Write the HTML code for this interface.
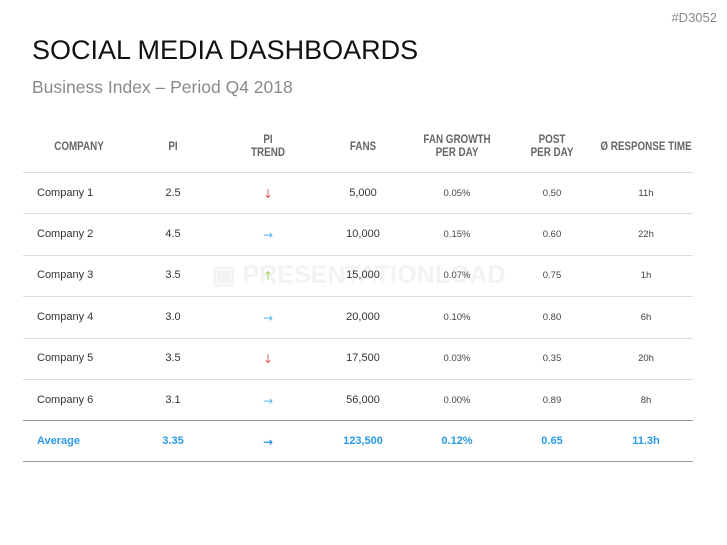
<!DOCTYPE html>
<html><head><style>
body{margin:0;width:727px;height:545px;background:#fff;position:relative;overflow:hidden;font-family:"Liberation Sans",sans-serif}
.a{position:absolute;white-space:nowrap}
.h{font-family:"Liberation Sans Narrow","Liberation Sans",sans-serif;font-size:12px;color:#666;text-align:center;line-height:13px;transform:translateX(-50%) scaleX(0.82);font-weight:bold}
.c{font-size:11px;color:#333;transform:translateX(-50%)}
.s{font-size:9.5px;color:#444;transform:translateX(-50%)}
.ar{font-family:"DejaVu Sans",sans-serif;font-size:12px;transform:translateX(-50%)}
.ln{position:absolute;left:23px;width:670px;height:1px;background:#ddd}
.avg{font-size:11px;color:#2a9ae6;font-weight:bold;transform:translateX(-50%)}
</style></head><body>
<div class="a" style="right:10px;top:10px;font-size:13px;color:#888">#D3052</div>
<div class="a" style="left:32px;top:35px;font-size:27px;color:#111">SOCIAL MEDIA DASHBOARDS</div>
<div class="a" style="left:32px;top:77px;font-size:17.5px;color:#8a8a8a">Business Index – Period Q4 2018</div>
<div class="a" style="left:212px;top:260px;font-size:25px;color:#f3f3f3;font-weight:bold;letter-spacing:0px">▣ PRESENTATIONLOAD</div>

<div class="a h" style="left:79px;top:140px">COMPANY</div>
<div class="a h" style="left:173px;top:140px">PI</div>
<div class="a h" style="left:268px;top:133px">PI<br>TREND</div>
<div class="a h" style="left:363px;top:140px">FANS</div>
<div class="a h" style="left:457px;top:133px">FAN GROWTH<br>PER DAY</div>
<div class="a h" style="left:552px;top:133px">POST<br>PER DAY</div>
<div class="a h" style="left:646px;top:140px">Ø RESPONSE TIME</div>

<div class="ln" style="top:172px"></div>
<div class="ln" style="top:213px"></div>
<div class="ln" style="top:255px"></div>
<div class="ln" style="top:296px"></div>
<div class="ln" style="top:338px"></div>
<div class="ln" style="top:379px"></div>
<div class="ln" style="top:420px;background:#999"></div>
<div class="ln" style="top:461px;background:#999"></div>

<div class="a" style="left:0;top:187px;width:727px">
<div class="a" style="left:37px;font-size:11px;color:#333">Company 1</div><div class="a c" style="left:173px">2.5</div><div class="a ar" style="left:268px;color:#e06060">↓</div><div class="a c" style="left:363px">5,000</div><div class="a s" style="left:457px;top:1px">0.05%</div><div class="a s" style="left:552px;top:1px">0.50</div><div class="a s" style="left:646px;top:1px">11h</div></div>
<div class="a" style="left:0;top:228px;width:727px">
<div class="a" style="left:37px;font-size:11px;color:#333">Company 2</div><div class="a c" style="left:173px">4.5</div><div class="a ar" style="left:268px;color:#5ab4ec">→</div><div class="a c" style="left:363px">10,000</div><div class="a s" style="left:457px;top:1px">0.15%</div><div class="a s" style="left:552px;top:1px">0.60</div><div class="a s" style="left:646px;top:1px">22h</div></div>
<div class="a" style="left:0;top:269px;width:727px">
<div class="a" style="left:37px;font-size:11px;color:#333">Company 3</div><div class="a c" style="left:173px">3.5</div><div class="a ar" style="left:268px;color:#a6cf5a">↑</div><div class="a c" style="left:363px">15,000</div><div class="a s" style="left:457px;top:1px">0.07%</div><div class="a s" style="left:552px;top:1px">0.75</div><div class="a s" style="left:646px;top:1px">1h</div></div>
<div class="a" style="left:0;top:311px;width:727px">
<div class="a" style="left:37px;font-size:11px;color:#333">Company 4</div><div class="a c" style="left:173px">3.0</div><div class="a ar" style="left:268px;color:#5ab4ec">→</div><div class="a c" style="left:363px">20,000</div><div class="a s" style="left:457px;top:1px">0.10%</div><div class="a s" style="left:552px;top:1px">0.80</div><div class="a s" style="left:646px;top:1px">6h</div></div>
<div class="a" style="left:0;top:352px;width:727px">
<div class="a" style="left:37px;font-size:11px;color:#333">Company 5</div><div class="a c" style="left:173px">3.5</div><div class="a ar" style="left:268px;color:#e06060">↓</div><div class="a c" style="left:363px">17,500</div><div class="a s" style="left:457px;top:1px">0.03%</div><div class="a s" style="left:552px;top:1px">0.35</div><div class="a s" style="left:646px;top:1px">20h</div></div>
<div class="a" style="left:0;top:394px;width:727px">
<div class="a" style="left:37px;font-size:11px;color:#333">Company 6</div><div class="a c" style="left:173px">3.1</div><div class="a ar" style="left:268px;color:#5ab4ec">→</div><div class="a c" style="left:363px">56,000</div><div class="a s" style="left:457px;top:1px">0.00%</div><div class="a s" style="left:552px;top:1px">0.89</div><div class="a s" style="left:646px;top:1px">8h</div></div>
<div class="a" style="left:0;top:435px;width:727px">
<div class="a" style="left:37px;font-size:11px;color:#2a9ae6;font-weight:bold">Average</div><div class="a avg" style="left:173px">3.35</div><div class="a ar" style="left:268px;color:#2a9ae6;font-weight:bold">→</div><div class="a avg" style="left:363px">123,500</div><div class="a avg" style="left:457px">0.12%</div><div class="a avg" style="left:552px">0.65</div><div class="a avg" style="left:646px">11.3h</div></div>
</body></html>
